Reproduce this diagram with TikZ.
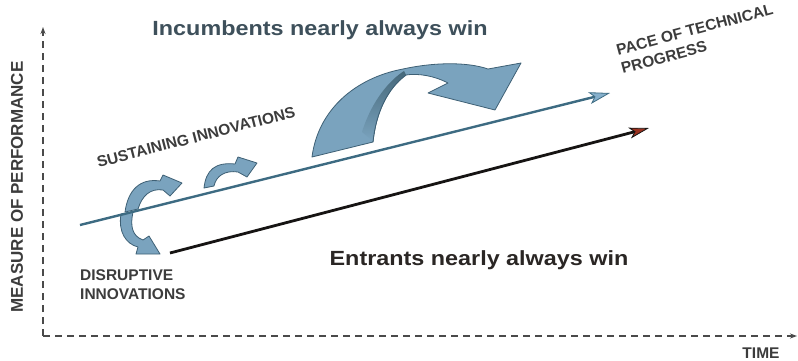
\documentclass[tikz,border=0pt]{standalone}
\usepackage{fontspec}
\setmainfont{Liberation Sans}
\newfontfamily\headfont[FakeStretch=1.14]{Liberation Sans}
\usetikzlibrary{arrows.meta}

\definecolor{ribbon}{HTML}{7AA3BE}
\definecolor{ribbondark}{HTML}{46687A}
\definecolor{ribbonedge}{HTML}{3E6075}
\definecolor{paceline}{HTML}{3D6B82}
\definecolor{pacehead}{HTML}{86B0CC}
\definecolor{entline}{HTML}{161413}
\definecolor{enthead}{HTML}{9B3321}
\definecolor{axisgray}{HTML}{4A4A4A}
\definecolor{labelgray}{HTML}{3C3C3C}
\definecolor{incumbent}{HTML}{3E505B}
\definecolor{entrant}{HTML}{2A2624}

\tikzset{
  axisline/.style={axisgray, line width=1.6pt, dash pattern=on 7pt off 5pt,
    -{Stealth[length=7pt,width=5pt]}},
  capslabel/.style={font=\bfseries\fontsize{15.5}{19}\selectfont, text=labelgray, inner sep=0pt},
  headline/.style={font=\headfont\bfseries\fontsize{20.5}{24}\selectfont, inner sep=0pt},
  ribbonarrow/.style={fill=ribbon, draw=ribbonedge, line width=0.8pt, line join=round},
  pacearrow/.style={paceline, line width=2.4pt,
    -{Stealth[length=21pt,width=12pt,inset=5pt,fill=pacehead,line width=0.8pt]}},
  entarrow/.style={entline, line width=2.8pt,
    -{Stealth[length=20pt,width=11pt,inset=5pt,fill=enthead,line width=0.8pt]}}
}

\begin{document}
\begin{tikzpicture}[x=1pt,y=-1pt]
  \useasboundingbox[fill=white] (0,0) rectangle (798,360);

  % axes
  \coordinate (origin) at (43,336);
  \coordinate (ytop) at (43,27);
  \coordinate (xend) at (797,336);
  \draw[axisline] (origin) -- (ytop);
  \draw[axisline] (origin) -- (xend);

  % big arc: incumbents leap ahead
  \path[ribbonarrow] (312,157) .. controls (318,110) and (355,78) .. (403,69)
    .. controls (435,62) and (468,62) .. (488,69)
    -- (521,63) -- (495,110) -- (428,93) -- (448,83)
    .. controls (435,76) and (418,73) .. (406,75)
    .. controls (388,88) and (376,112) .. (373,142) -- cycle;
  % darker inside of the twist
  \shade[top color=ribbondark, bottom color=ribbon]
    (404,71) .. controls (390,80) and (372,100) .. (362,132)
    -- (373,141) .. controls (376,112) and (388,88) .. (406,75) -- cycle;
  \draw[ribbonedge, line width=0.8pt]
    (406,75) .. controls (388,88) and (376,112) .. (373,142);

  % small sustaining steps
  \path[ribbonarrow] (125,212) .. controls (128,190) and (140,178) .. (160,181)
    -- (163,175) -- (182,183) -- (170,196) -- (163,190)
    .. controls (150,188) and (142,196) .. (138,209) -- cycle;
  \path[ribbonarrow] (204,188) .. controls (206,170) and (215,162) .. (235,164)
    -- (238,157) -- (257,163) -- (247,177) -- (238,172)
    .. controls (225,170) and (216,176) .. (214,186) -- cycle;

  % disruptive drop
  \path[ribbonarrow] (121,214) .. controls (118,232) and (126,244) .. (138,247)
    -- (136,254) -- (160,254) -- (149,236) -- (143,240)
    .. controls (132,236) and (130,226) .. (133,212) -- cycle;

  % trajectories
  \coordinate (paceA) at (80,225);
  \coordinate (paceB) at (610,93);
  \coordinate (entA) at (170,253);
  \coordinate (entB) at (649,128);
  \draw[pacearrow] (paceA) -- (paceB);
  \draw[entarrow] (entA) -- (entB);

  % labels
  \node[headline, text=incumbent] (incumbents) at (320,30) {Incumbents nearly always win};
  \node[headline, text=entrant] (entrants) at (479,260) {Entrants nearly always win};
  \node[capslabel, font=\bfseries\fontsize{17}{20}\selectfont, rotate=90] (measure) at (17,187) {MEASURE OF PERFORMANCE};
  \node[capslabel] (time) at (761,353) {TIME};
  \node[capslabel, rotate=14.5] (sustaining) at (196,137) {SUSTAINING INNOVATIONS};
  \node[capslabel, rotate=15, align=left, anchor=north west] (pace) at (615,45) {PACE OF TECHNICAL\\PROGRESS};
  \node[capslabel, align=left, anchor=north west] (disruptive) at (80,269) {DISRUPTIVE\\INNOVATIONS};
\end{tikzpicture}
\end{document}
